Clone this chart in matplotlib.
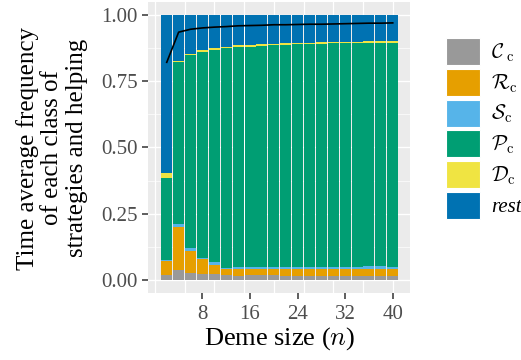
import numpy as np
import matplotlib
matplotlib.use("Agg")
import matplotlib.pyplot as plt
from matplotlib.patches import Patch

plt.rcParams['font.family'] = ['Liberation Serif', 'DejaVu Serif']
plt.rcParams['mathtext.fontset'] = 'cm'

# deme sizes
n = [2, 4, 6, 8, 10, 12, 14, 16, 18, 20, 22, 24, 26, 28, 30, 32, 34, 36, 38, 40]

# time average frequencies of each class
C_c = [0.019, 0.038, 0.025, 0.023, 0.023, 0.019, 0.015, 0.019, 0.019, 0.019,
       0.015, 0.015, 0.015, 0.015, 0.015, 0.015, 0.015, 0.015, 0.015, 0.015]
R_c = [0.053, 0.162, 0.084, 0.054, 0.034, 0.020, 0.027, 0.020, 0.020, 0.020,
       0.024, 0.024, 0.024, 0.024, 0.024, 0.024, 0.024, 0.024, 0.024, 0.024]
S_c = [0.002, 0.011, 0.012, 0.006, 0.011, 0.006, 0.007, 0.010, 0.010, 0.010,
       0.010, 0.010, 0.010, 0.010, 0.010, 0.010, 0.010, 0.014, 0.014, 0.010]
P_c = [0.311, 0.613, 0.728, 0.777, 0.800, 0.832, 0.830, 0.830, 0.834, 0.839,
       0.839, 0.843, 0.843, 0.843, 0.845, 0.845, 0.845, 0.843, 0.843, 0.847]
D_c = [0.019, 0.004, 0.005, 0.008, 0.007, 0.002, 0.008, 0.008, 0.008, 0.004,
       0.006, 0.002, 0.004, 0.006, 0.004, 0.004, 0.004, 0.006, 0.006, 0.006]
rest = [0.596, 0.172, 0.146, 0.132, 0.125, 0.121, 0.113, 0.113, 0.109, 0.108,
        0.106, 0.106, 0.104, 0.102, 0.102, 0.102, 0.102, 0.098, 0.098, 0.098]

# helping frequency (black line)
helping = [0.822, 0.936, 0.947, 0.952, 0.955, 0.957, 0.960, 0.961, 0.962, 0.964,
           0.964, 0.965, 0.966, 0.966, 0.967, 0.968, 0.969, 0.970, 0.970, 0.971]

labels = [r'$\mathcal{C}_{\;\mathrm{c}}$', r'$\mathcal{R}_{\mathrm{c}}$', r'$\mathcal{S}_{\mathrm{c}}$',
          r'$\mathcal{P}_{\mathrm{c}}$', r'$\mathcal{D}_{\mathrm{c}}$', 'rest']
colors = ['#999999', '#E69F00', '#56B4E9', '#009E73', '#F0E442', '#0072B2']

fig = plt.figure(figsize=(5.21, 3.6), dpi=100)
ax = fig.add_axes([148.3 / 521, 1 - 293 / 360, (410 - 148.3) / 521, 291 / 360])
ax.set_facecolor('#EBEBEB')
for s in ax.spines.values():
    s.set_visible(False)

# background grid
for yv in [0.125, 0.375, 0.625, 0.875]:
    ax.axhline(yv, color='white', lw=0.5, zorder=0)
for yv in [0, 0.25, 0.5, 0.75, 1.0]:
    ax.axhline(yv, color='white', lw=1.0, zorder=0)
for xv in range(0, 45, 5):
    ax.axvline(xv, color='white', lw=0.9, zorder=0)

series = [C_c, R_c, S_c, P_c, D_c, rest]
bottom = np.zeros(len(n))
for vals, col in zip(series, colors):
    ax.bar(n, vals, bottom=bottom, width=1.85, color=col, linewidth=0, zorder=2)
    bottom += np.array(vals)

ax.plot(n, helping, color='black', lw=1.2, zorder=3)

ax.set_xlim(-1.1, 42.9)
ax.set_ylim(-0.05, 1.05)
ax.set_xticks([8, 16, 24, 32, 40])
ax.set_yticks([0, 0.25, 0.5, 0.75, 1.0])
ax.set_yticklabels(['0.00', '0.25', '0.50', '0.75', '1.00'])
ax.tick_params(axis='both', colors='#333333', length=4.5, width=1.1, labelsize=15,
               labelcolor='#4D4D4D')
ax.tick_params(axis='x', pad=4)
ax.tick_params(axis='y', pad=3)

fig.text(280 / 521, 1 - 339 / 360, r'Deme size ($n$)', ha='center', va='center', fontsize=19)
fig.text(52 / 521, 1 - 148 / 360,
         'Time average frequency\nof each class of\nstrategies and helping',
         ha='center', va='center', rotation=90, fontsize=18, linespacing=1.12)

handles = [Patch(facecolor=c, edgecolor='white', linewidth=0.8) for c in colors]
leg = fig.legend(handles, labels, loc='upper left', bbox_to_anchor=(446 / 521, 1 - 38 / 360),
                 frameon=False, fontsize=15, handlelength=1.65, handleheight=1.62,
                 labelspacing=0.18, handletextpad=0.5, borderpad=0, borderaxespad=0)
leg.get_texts()[-1].set_fontstyle('italic')

fig.savefig('out.png', dpi=100)
